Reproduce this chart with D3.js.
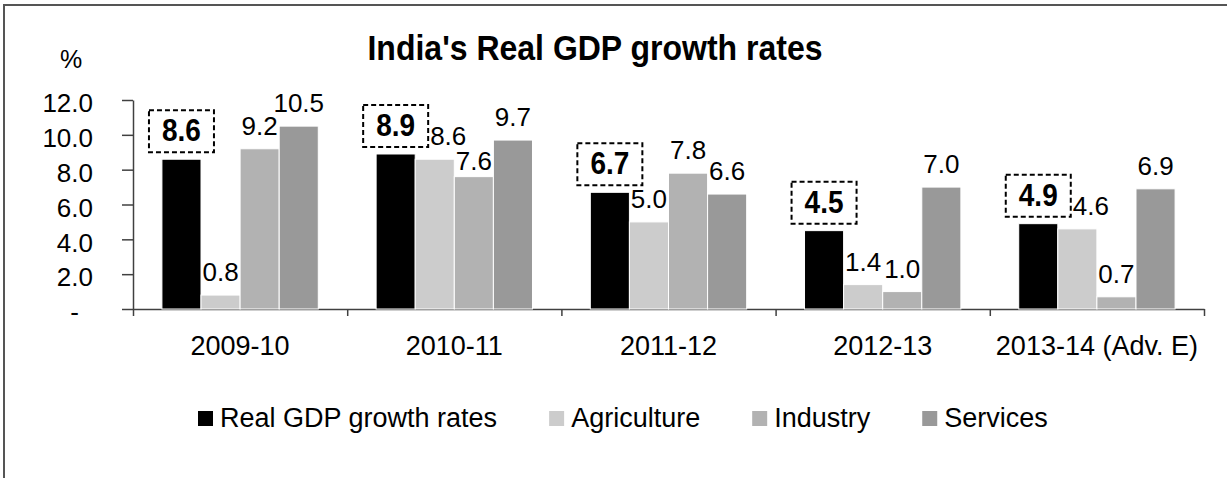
<!DOCTYPE html>
<html>
<head>
<meta charset="utf-8">
<script src="https://cdn.jsdelivr.net/npm/d3@7"></script>
<style>
  body { margin: 0; background: #fff; }
  text { font-family: "Liberation Sans", Arial, sans-serif; fill: #000; }
</style>
</head>
<body>
<script>
// chart values
var categories = ["2009-10", "2010-11", "2011-12", "2012-13", "2013-14 (Adv. E)"];
var seriesNames = ["Real GDP growth rates", "Agriculture", "Industry", "Services"];
var gdp = [8.6, 8.9, 6.7, 4.5, 4.9];
var agriculture = [0.8, 8.6, 5.0, 1.4, 4.6];
var industry = [9.2, 7.6, 7.8, 1.0, 0.7];
var services = [10.5, 9.7, 6.6, 7.0, 6.9];
var yTicks = [0, 2, 4, 6, 8, 10, 12];
var colors = ["#000000", "#cccccc", "#b2b2b2", "#999999"];

var seriesValues = [gdp, agriculture, industry, services];

var width = 1227;
var height = 478;

var svg = d3.select("body").append("svg")
    .attr("width", width)
    .attr("height", height);

// stretch text a little in height around its baseline
function stretch(sel, k) {
    sel.each(function() {
        var t = d3.select(this);
        var yy = +t.attr("y") || 0;
        t.attr("transform", "translate(0," + (yy * (1 - k)) + ") scale(1," + k + ")");
    });
}

// outer frame (runs off the right and bottom edges)
svg.append("rect")
    .attr("x", 4)
    .attr("y", 5)
    .attr("width", 1300)
    .attr("height", 600)
    .attr("fill", "none")
    .attr("stroke", "#555")
    .attr("stroke-width", 2);

svg.append("text")
    .attr("x", 595)
    .attr("y", 60)
    .attr("text-anchor", "middle")
    .style("font-size", "32px")
    .style("font-weight", "bold")
    .text("India's Real GDP growth rates")
    .call(stretch, 1.08);

svg.append("text")
    .attr("x", 71)
    .attr("y", 68)
    .attr("text-anchor", "middle")
    .style("font-size", "25px")
    .text("%");

var y = d3.scaleLinear().domain([0, 12]).range([309, 100]);
var x0 = d3.scaleBand().domain(categories).range([133, 1204]);
var bw = x0.bandwidth();
var x1 = d3.scaleBand().domain(seriesNames).range([bw * 0.135, bw * 0.865]);

// y axis
var yAxis = svg.append("g")
    .attr("transform", "translate(133,0)")
    .call(d3.axisLeft(y)
        .tickValues(yTicks)
        .tickSize(11)
        .tickSizeOuter(0)
        .tickPadding(29)
        .tickFormat(function(d) { return d === 0 ? "-" : d.toFixed(1); }));
yAxis.selectAll("text")
    .style("font-size", "26px")
    .attr("dy", "0.45em")
    .attr("x", function(d) { return d === 0 ? -54 : -40; });

// x axis with ticks on category boundaries
var xb = d3.scaleLinear().domain([0, categories.length]).range([133, 1204]);
svg.append("g")
    .attr("transform", "translate(0,309)")
    .call(d3.axisBottom(xb)
        .tickValues(d3.range(categories.length + 1))
        .tickSize(7)
        .tickSizeOuter(0)
        .tickFormat(""));

var xLabels = svg.append("g")
    .attr("transform", "translate(0,309)")
    .call(d3.axisBottom(x0).tickSize(0).tickPadding(27));
xLabels.select(".domain").remove();
xLabels.selectAll("text").style("font-size", "27px");

svg.selectAll(".domain, .tick line")
    .attr("stroke", "#404040")
    .attr("stroke-width", 1.5);

// bars
var groups = svg.selectAll("g.group")
    .data(categories)
    .join("g")
    .attr("class", "group")
    .attr("transform", function(d) { return "translate(" + x0(d) + ",0)"; });

groups.selectAll("rect")
    .data(function(d, i) {
        return seriesNames.map(function(s, j) {
            return { name: s, value: seriesValues[j][i], color: colors[j] };
        });
    })
    .join("rect")
    .attr("x", function(d) { return x1(d.name); })
    .attr("y", function(d) { return y(d.value); })
    .attr("width", x1.bandwidth())
    .attr("height", function(d) { return y(0) - y(d.value); })
    .attr("fill", function(d) { return d.color; })
    .attr("stroke", "#fff")
    .attr("stroke-width", 1);

// boxed GDP labels
var boxW = 65, boxH = 42;
var boxes = [];
groups.each(function(d, i) {
    var g = d3.select(this);
    var cx = x1(seriesNames[0]) + x1.bandwidth() / 2;
    var top = y(gdp[i]) - 7 - boxH;
    boxes[i] = { right: cx + boxW / 2, top: top, bottom: top + boxH };
    g.append("rect")
        .attr("x", cx - boxW / 2)
        .attr("y", top)
        .attr("width", boxW)
        .attr("height", boxH)
        .attr("fill", "none")
        .attr("stroke", "#000")
        .attr("stroke-width", 2)
        .attr("stroke-dasharray", "5,3");
    g.append("text")
        .attr("x", cx)
        .attr("y", top + boxH / 2 + 10)
        .attr("text-anchor", "middle")
        .style("font-size", "28px")
        .style("font-weight", "bold")
        .text(gdp[i].toFixed(1))
        .call(stretch, 1.12);
});

// plain value labels
var capH = 19;
groups.each(function(d, i) {
    var g = d3.select(this);
    var prev = null;
    seriesNames.slice(1).forEach(function(s, j) {
        var v = seriesValues[j + 1][i];
        var cx = x1(s) + x1.bandwidth() / 2;
        var ly = y(v) - 14;
        var t = g.append("text")
            .attr("class", "val")
            .attr("y", ly)
            .attr("text-anchor", "middle")
            .style("font-size", "26px")
            .text(v.toFixed(1));
        var w = t.node().getComputedTextLength();
        // push the first label clear of the dashed box next to it
        if (j === 0 && ly > boxes[i].top && ly - capH < boxes[i].bottom) {
            var left = cx - w / 2;
            if (left < boxes[i].right + 2) cx += boxes[i].right + 2 - left;
        }
        // drop a label below its neighbour if the two collide
        if (prev && cx - w / 2 < prev.right && Math.abs(ly - prev.y) < capH + 2) {
            if (v < prev.v) ly = Math.min(prev.y + capH + 6, y(v) - 5);
        }
        t.attr("x", cx).attr("y", ly);
        prev = { right: cx + w / 2, y: ly, v: v };
    });
});

// legend
var legend = svg.append("g").attr("transform", "translate(198,0)");
var lx = 0;
seriesNames.forEach(function(s, j) {
    legend.append("rect")
        .attr("x", lx)
        .attr("y", 411)
        .attr("width", 15)
        .attr("height", 15)
        .attr("fill", colors[j]);
    var t = legend.append("text")
        .attr("x", lx + 22)
        .attr("y", 427)
        .style("font-size", "27px")
        .text(s);
    lx += 22 + t.node().getComputedTextLength() + 52;
});
</script>
</body>
</html>
